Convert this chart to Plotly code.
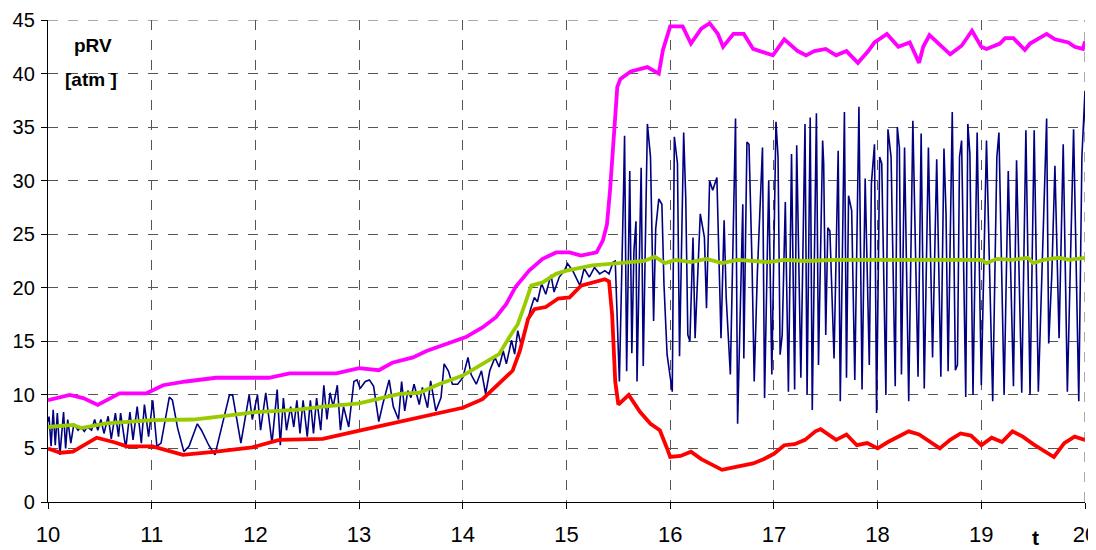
import plotly.graph_objects as go

# ---------------- data ----------------
# thin navy signal (t, pRV)
blue_t = [
    10.0, 10.01, 10.03, 10.05, 10.07, 10.09, 10.115, 10.15, 10.17, 10.19, 10.22, 10.25, 10.29, 10.32, 10.35,
    10.38, 10.42, 10.45, 10.48, 10.51, 10.54, 10.58, 10.61, 10.65, 10.68, 10.7, 10.75, 10.79, 10.82, 10.86,
    10.9, 10.93, 10.97, 11.01, 11.05, 11.09, 11.17, 11.2, 11.25, 11.31, 11.36, 11.44, 11.48, 11.55, 11.61,
    11.68, 11.75, 11.78,
    11.86, 11.94, 11.97, 12.02, 12.05, 12.1, 12.16, 12.21, 12.24, 12.27, 12.3, 12.34, 12.37, 12.4, 12.43,
    12.46, 12.5, 12.53, 12.56, 12.59, 12.63, 12.66, 12.69, 12.72, 12.75, 12.79, 12.82, 12.85, 12.9, 12.95,
    12.98, 13.01, 13.06, 13.1, 13.14, 13.19, 13.23, 13.29, 13.33, 13.38, 13.41,
    13.44, 13.47, 13.5, 13.53, 13.58, 13.61, 13.66, 13.69, 13.74, 13.79, 13.82, 13.86, 13.9, 13.95, 14.0,
    14.05, 14.08, 14.13, 14.18, 14.22, 14.26, 14.31, 14.35, 14.39, 14.42, 14.47, 14.5, 14.53, 14.56, 14.61,
    14.66, 14.69, 14.72, 14.76, 14.8, 14.85, 14.88, 14.93, 14.98, 15.01, 15.06, 15.13, 15.17, 15.22, 15.27,
    15.32, 15.37, 15.41, 15.45, 15.47,
    15.51, 15.55, 15.56, 15.58, 15.61, 15.63, 15.65, 15.67, 15.68, 15.72, 15.74, 15.78, 15.81, 15.84, 15.86,
    15.89, 15.92, 15.94, 15.97, 16.02, 16.04, 16.07, 16.09, 16.13, 16.15, 16.17, 16.19, 16.22, 16.24, 16.29,
    16.33, 16.35, 16.38, 16.41, 16.45, 16.49, 16.52, 16.54, 16.58, 16.63, 16.65, 16.70, 16.71, 16.74, 16.76,
    16.79, 16.81, 16.84, 16.89, 16.91, 16.95, 16.98,
    17.02, 17.04, 17.06, 17.08, 17.11, 17.14, 17.17, 17.2, 17.22, 17.26, 17.3, 17.32, 17.35, 17.37, 17.41,
    17.43, 17.47, 17.48, 17.5, 17.52, 17.54, 17.58, 17.62, 17.64, 17.68, 17.7, 17.72, 17.75, 17.78, 17.82,
    17.85, 17.88, 17.92, 17.94, 17.97, 17.99, 18.02, 18.04, 18.08, 18.1, 18.13, 18.17, 18.19, 18.21, 18.23,
    18.26, 18.3, 18.34, 18.36, 18.39, 18.42, 18.45, 18.49, 18.53,
    18.57, 18.61, 18.64, 18.66, 18.68, 18.72, 18.75, 18.77, 18.79, 18.81, 18.85, 18.87, 18.89, 18.92, 18.96,
    19.0, 19.05, 19.11, 19.15, 19.17, 19.22, 19.26, 19.31, 19.34, 19.39, 19.43, 19.47, 19.51, 19.55, 19.63,
    19.65, 19.68, 19.71, 19.75, 19.79, 19.83, 19.89, 19.94, 19.97, 20.0, 20.01,
]
blue_p = [
    7.5, 7.97, 5.2, 8.6, 5.3, 8.3, 4.4, 8.4, 5.0, 7.7, 5.5, 7.3, 6.7, 7.0, 6.6,
    7.0, 6.7, 7.7, 6.7, 7.7, 6.4, 8.0, 5.9, 8.3, 6.1, 8.3, 5.0, 8.4, 5.8, 8.9,
    5.5, 9.1, 6.1, 9.5, 5.2, 5.5, 9.8, 9.5, 6.9, 4.7, 5.2, 7.3, 6.7, 5.3, 4.4,
    7.3, 10.0, 10.0,
    5.5, 10.0, 7.7, 10.0, 6.7, 10.2, 5.5, 10.5, 5.3, 9.7, 6.7, 8.9, 7.0, 9.5, 6.4,
    9.5, 6.1, 9.5, 6.4, 9.7, 6.7, 10.9, 7.7, 10.2, 8.9, 10.9, 6.7, 8.9, 7.0, 11.25,
    11.4, 10.6, 11.25, 11.4, 10.8, 7.5, 9.2, 11.4, 8.9, 7.7, 11.25,
    8.5, 10.4, 9.75, 11.0, 9.1, 10.7, 8.8, 11.3, 8.5, 9.75, 12.9, 12.25, 11.0, 11.0, 11.6,
    13.5, 11.9, 11.0, 12.25, 10.1, 12.25, 13.5, 12.6, 14.1, 12.9, 15.1, 13.8, 16.0, 14.75, 16.6,
    18.2, 19.1, 18.7, 20.4, 19.4, 21.2, 19.6, 21.0, 21.6, 22.25, 21.6, 20.2, 21.8, 21.0, 21.9,
    21.3, 21.6, 21.3, 22.4, 22.5,
    11.25, 29.1, 34.2, 12.2, 30.9, 13.9, 23.4, 26.2, 11.25, 31.2, 12.7, 35.3, 32.2, 16.9, 25.5,
    28.3, 27.8, 20.3, 13.75, 10.3, 34.1, 31.6, 13.6, 34.5, 28.4, 15.6, 15.0, 24.7, 15.3, 26.9,
    24.7, 18.1, 30.0, 29.1, 30.3, 15.3, 26.3, 19.1, 11.9, 35.8, 7.3, 27.8, 13.4, 33.6, 33.4,
    21.9, 11.25, 21.25, 33.1, 9.7, 30.0, 11.9,
    35.5, 32.2, 13.75, 15.6, 28.0, 10.3, 32.5, 10.5, 33.3, 11.6, 35.3, 10.0, 35.9, 8.6, 36.3,
    12.8, 33.75, 31.6, 15.6, 25.6, 25.3, 13.4, 32.8, 9.4, 36.4, 11.6, 28.6, 27.2, 11.4, 36.9,
    10.5, 30.2, 12.8, 29.7, 33.4, 8.3, 32.2, 31.6, 10.0, 34.8, 32.2, 10.8, 35.0, 33.1, 11.9,
    33.1, 9.4, 35.6, 26.3, 11.7, 34.4, 10.6, 33.1, 13.5,
    32.0, 11.7, 33.0, 26.9, 12.2, 36.4, 12.3, 12.8, 32.2, 33.75, 9.8, 35.3, 32.5, 10.0, 34.5,
    10.9, 33.75, 9.4, 32.2, 34.5, 10.0, 30.9, 10.8, 31.9, 10.2, 34.7, 10.0, 34.7, 10.3, 35.8,
    14.8, 21.25, 31.4, 15.3, 33.4, 10.3, 34.8, 9.4, 32.2, 38.4, 31.6,
]

# magenta upper envelope
mag_t = [10.0, 10.21, 10.34, 10.48, 10.69, 10.95, 11.11, 11.33, 11.62, 12.13, 12.33, 12.78, 13.0, 13.19,
         13.32, 13.52, 13.65, 13.84, 14.03, 14.19, 14.32, 14.42, 14.51, 14.64, 14.77, 14.9, 15.03, 15.14,
         15.29, 15.35, 15.39, 15.42, 15.46, 15.49, 15.52, 15.62, 15.78, 15.89, 15.93, 16.0, 16.12, 16.2,
         16.3, 16.38, 16.46, 16.51, 16.61, 16.71, 16.8, 16.99, 17.1, 17.23, 17.31, 17.39, 17.5, 17.6, 17.7,
         17.81, 17.91, 17.97, 18.09, 18.2, 18.31, 18.4, 18.44, 18.5, 18.7, 18.81, 18.91, 19.0, 19.05, 19.18,
         19.23, 19.31, 19.42, 19.47, 19.63, 19.71, 19.84, 19.9, 19.98, 20.0]
mag_p = [9.5, 10.0, 9.7, 9.06, 10.15, 10.15, 10.9, 11.25, 11.6, 11.6, 12.0, 12.0, 12.5, 12.3,
         13.0, 13.5, 14.1, 14.75, 15.4, 16.3, 17.25, 18.5, 20.1, 21.6, 22.7, 23.3, 23.3, 23.0,
         23.3, 24.4, 25.9, 29.1, 34.7, 38.75, 39.5, 40.2, 40.6, 40.0, 42.2, 44.4, 44.4, 42.8,
         44.2, 44.7, 43.7, 42.5, 43.7, 43.7, 42.3, 41.7, 43.2, 42.1, 41.7, 42.1, 42.3, 41.7, 42.1,
         41.0, 42.1, 42.9, 43.7, 42.5, 42.9, 41.0, 42.5, 43.6, 41.8, 42.6, 44.0, 42.5, 42.3, 42.8,
         43.3, 43.3, 42.2, 42.8, 43.7, 43.2, 42.9, 42.5, 42.3, 43.0]

# red lower envelope
red_t = [10.0, 10.12, 10.24, 10.47, 10.63, 10.76, 11.01, 11.3, 11.62, 11.97, 12.23, 12.65, 12.97, 13.29,
         13.64, 14.0, 14.19, 14.35, 14.48, 14.55, 14.63, 14.69, 14.8, 14.92, 15.03, 15.14, 15.25, 15.37,
         15.41, 15.44, 15.47, 15.5, 15.6, 15.71, 15.81, 15.9, 15.97, 16.0, 16.1, 16.2, 16.3, 16.4, 16.5,
         16.6, 16.7, 16.8, 16.9, 17.0, 17.1, 17.2, 17.3, 17.4, 17.45, 17.5, 17.6, 17.7, 17.8, 17.9, 18.0,
         18.1, 18.2, 18.3, 18.4, 18.5, 18.6, 18.7, 18.8, 18.9, 19.0, 19.1, 19.2, 19.3, 19.4, 19.5, 19.6,
         19.7, 19.8, 19.9, 20.0]
red_p = [5.0, 4.6, 4.7, 6.0, 5.6, 5.2, 5.2, 4.4, 4.7, 5.1, 5.8, 5.9, 6.6, 7.3,
         8.1, 8.8, 9.6, 11.0, 12.25, 14.1, 17.1, 18.0, 18.2, 19.0, 19.1, 20.2, 20.5, 20.8,
         20.6, 17.5, 11.25, 9.1, 10.0, 8.4, 7.3, 6.7, 5.0, 4.2, 4.3, 4.7, 4.0, 3.5, 3.0,
         3.2, 3.4, 3.6, 4.0, 4.5, 5.3, 5.4, 5.8, 6.6, 6.8, 6.5, 5.8, 6.3, 5.3, 5.5, 5.0,
         5.6, 6.1, 6.6, 6.3, 5.6, 5.0, 5.8, 6.4, 6.2, 5.3, 6.0, 5.6, 6.6, 6.1, 5.4, 4.8,
         4.2, 5.5, 6.1, 5.8]

# green mean line
grn_t = [10.0, 10.24, 10.32, 10.56, 11.01, 11.4, 11.67, 12.0, 12.39, 12.65, 13.0, 13.39, 13.58, 13.77,
         14.0, 14.19, 14.35, 14.45, 14.53, 14.6, 14.66, 14.77, 14.9, 15.0, 15.13, 15.25, 15.45, 15.6,
         15.75, 15.85, 15.95, 16.05, 16.2, 16.35, 16.5, 16.65, 16.8, 16.95, 17.1, 17.3, 17.6, 18.0,
         18.5, 19.0, 19.05, 19.15, 19.3, 19.45, 19.5, 19.6, 19.75, 19.85, 20.0]
grn_p = [7.0, 7.2, 6.9, 7.35, 7.65, 7.7, 8.0, 8.4, 8.6, 8.9, 9.2, 10.1, 10.2, 11.0,
         11.8, 12.9, 13.8, 15.4, 16.6, 18.5, 20.2, 20.5, 21.3, 21.6, 21.9, 22.1, 22.25, 22.4,
         22.5, 22.9, 22.3, 22.6, 22.4, 22.7, 22.3, 22.6, 22.5, 22.4, 22.6, 22.5, 22.6, 22.6,
         22.6, 22.6, 22.3, 22.7, 22.6, 22.8, 22.3, 22.6, 22.8, 22.6, 22.8]

x_ticks = list(range(10, 21))
y_ticks = list(range(0, 50, 5))
x_range = [10, 20]
y_range = [0, 45]

# ---------------- figure ----------------
fig = go.Figure()
fig.add_trace(go.Scatter(x=blue_t, y=blue_p, mode="lines",
                         line=dict(color="#000080", width=1.6), showlegend=False))
fig.add_trace(go.Scatter(x=mag_t, y=mag_p, mode="lines",
                         line=dict(color="#FF00FF", width=3.8), showlegend=False))
fig.add_trace(go.Scatter(x=red_t, y=red_p, mode="lines",
                         line=dict(color="#FF0000", width=3.8), showlegend=False))
fig.add_trace(go.Scatter(x=grn_t, y=grn_p, mode="lines",
                         line=dict(color="#99CC00", width=3.8), showlegend=False))

grid_col = "#555555"
fig.update_xaxes(range=x_range, tickvals=x_ticks, ticktext=[str(v) for v in x_ticks],
                 showline=True, linecolor="black", linewidth=1.3, automargin=False,
                 ticks="outside", ticklen=6, tickcolor="black", ticklabelstandoff=6,
                 ticklabeloverflow="allow",
                 showgrid=True, gridcolor=grid_col, gridwidth=1, griddash="10px,10px",
                 zeroline=False, tickfont=dict(family="Liberation Sans, Arial", size=22, color="black"))
fig.update_yaxes(range=y_range, tickvals=y_ticks, ticktext=[str(v) for v in y_ticks],
                 showline=True, linecolor="black", linewidth=1.3, automargin=False,
                 ticks="outside", ticklen=6, tickcolor="black", ticklabelstandoff=2,
                 ticklabeloverflow="allow",
                 showgrid=True, gridcolor=grid_col, gridwidth=1, griddash="10px,10px",
                 zeroline=False, tickfont=dict(family="Liberation Sans, Arial", size=20, color="black"))

# grid lines at the far edges (top and right), which plotly skips
fig.add_shape(type="line", xref="x", yref="y", x0=x_range[0], x1=x_range[1], y0=y_range[1], y1=y_range[1],
              line=dict(color=grid_col, width=1, dash="10px,10px"), layer="below")
fig.add_shape(type="line", xref="x", yref="y", x0=x_range[1], x1=x_range[1], y0=y_range[0], y1=y_range[1],
              line=dict(color=grid_col, width=1, dash="10px,10px"), layer="below")

fig.add_annotation(x=10.43, y=42.6, xref="x", yref="y", text="<b>pRV</b>", showarrow=False,
                   font=dict(family="Liberation Sans, Arial", size=19, color="black"))
fig.add_annotation(x=10.41, y=39.4, xref="x", yref="y", text="<b>[atm ]</b>", showarrow=False,
                   font=dict(family="Liberation Sans, Arial", size=19, color="black"))
fig.add_annotation(x=0.952, y=-0.073, xref="paper", yref="paper", text="<b>t</b>", showarrow=False,
                   xanchor="center", yanchor="middle",
                   font=dict(family="Liberation Sans, Arial", size=21, color="black"))

# the page body adds an 8px offset, so the figure is 8px smaller than the window
fig.update_layout(width=1088, height=542, margin=dict(l=40, r=11, t=12, b=48),
                  paper_bgcolor="white", plot_bgcolor="white")

fig.write_html("out.html")
